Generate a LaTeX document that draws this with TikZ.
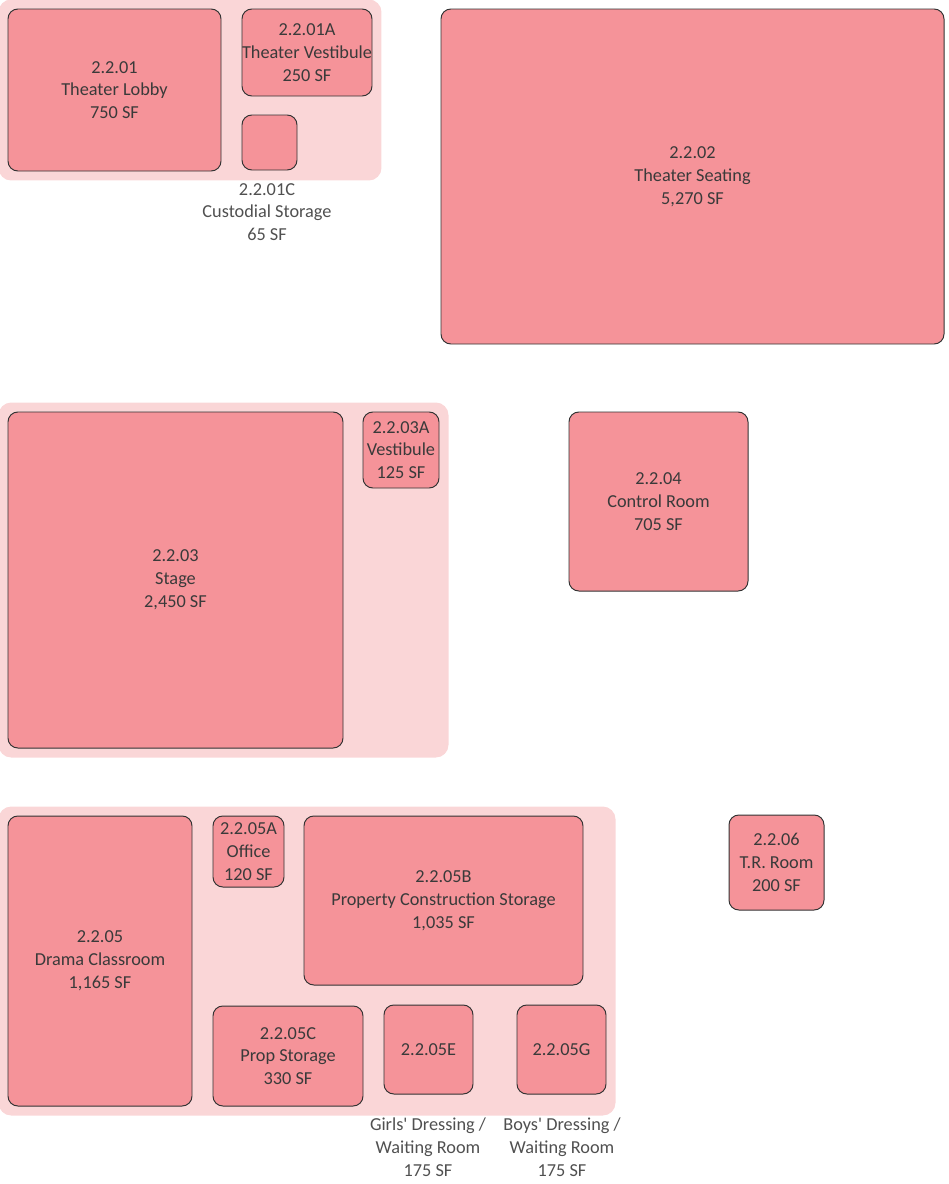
\documentclass[tikz,border=0pt]{standalone}
\usepackage{fontspec}
\setmainfont{Carlito}
\usepackage{xcolor}
\usepackage{tikz}
\usetikzlibrary{positioning, fit, backgrounds}

\definecolor{roomfill}{HTML}{F59399}
\definecolor{panelfill}{HTML}{FAD6D7}
\definecolor{edge}{HTML}{333333}
\definecolor{ink}{HTML}{3A3A3A}
\definecolor{note}{HTML}{505050}

\begin{document}
\begin{tikzpicture}[
    x=0.025cm, y=-0.025cm,
    room/.style 2 args={rectangle, draw=edge, line width=0.7pt, rounded corners=7pt, fill=roomfill,
        minimum width=#1*0.025cm, minimum height=#2*0.025cm, inner sep=0pt, align=center,
        font=\fontsize{13pt}{16.2pt}\selectfont, text=ink},
    panel/.style={rectangle, rounded corners=9pt, fill=panelfill, inner sep=0.225cm},
    caption/.style={align=center, font=\fontsize{13pt}{16.2pt}\selectfont, text=note},
]
\useasboundingbox (0,0) rectangle (948,1184);

% --- 2.2.01 Lobby group ---
\node[room={213}{162}] (lobby) at (114.5, 90) {2.2.01\\Theater Lobby\\750 SF};
\node[room={130}{87}] (vest) at (307, 52.5) {2.2.01A\\Theater Vestibule\\250 SF};
\node[room={55}{55}] (cust) at (269.5, 142.5) {};
\node[caption] (custlabel) at (267, 212) {2.2.01C\\Custodial Storage\\65 SF};

% --- 2.2.02 Seating ---
\node[room={503}{335}] (seating) at (692.5, 176.5) {2.2.02\\Theater Seating\\5,270 SF};

% --- 2.2.03 Stage group ---
\node[room={335}{336}] (stage) at (175.5, 580) {2.2.03\\Stage\\2,450 SF};
\node[room={76}{76}] (vest3) at (401, 450) {2.2.03A\\Vestibule\\125 SF};

% --- 2.2.04 Control ---
\node[room={179}{179}] (control) at (658.5, 501.5) {2.2.04\\Control Room\\705 SF};

% --- 2.2.05 Drama group ---
\node[room={184}{290}] (drama) at (100, 961) {2.2.05\\Drama Classroom\\1,165 SF};
\node[room={71}{71}] (office) at (248.5, 851.5) {2.2.05A\\Office\\120 SF};
\node[room={279}{169}] (propcon) at (443.5, 900.5) {2.2.05B\\Property Construction Storage\\1,035 SF};
\node[room={150}{100}] (propsto) at (288, 1056) {2.2.05C\\Prop Storage\\330 SF};
\node[room={89}{89}] (girls) at (428.5, 1049.5) {2.2.05E};
\node[room={89}{89}] (boys) at (561.5, 1049.5) {2.2.05G};
\node[caption] (girlslabel) at (428, 1147) {Girls\textquotesingle{} Dressing /\\Waiting Room\\175 SF};
\node[caption] (boyslabel) at (562, 1147) {Boys\textquotesingle{} Dressing /\\Waiting Room\\175 SF};

% --- 2.2.06 T.R. Room ---
\node[room={95}{95}] (trroom) at (776.5, 862.5) {2.2.06\\T.R. Room\\200 SF};

% --- group panels ---
\begin{scope}[on background layer]
\node[panel, fit=(lobby)(vest)(cust)] (lobbygroup) {};
\node[panel, fit=(stage)(vest3)] (stagegroup) {};
\node[panel, fit=(drama)(office)(propcon)(propsto)(girls)(boys)] (dramagroup) {};
\end{scope}

\end{tikzpicture}
\end{document}
